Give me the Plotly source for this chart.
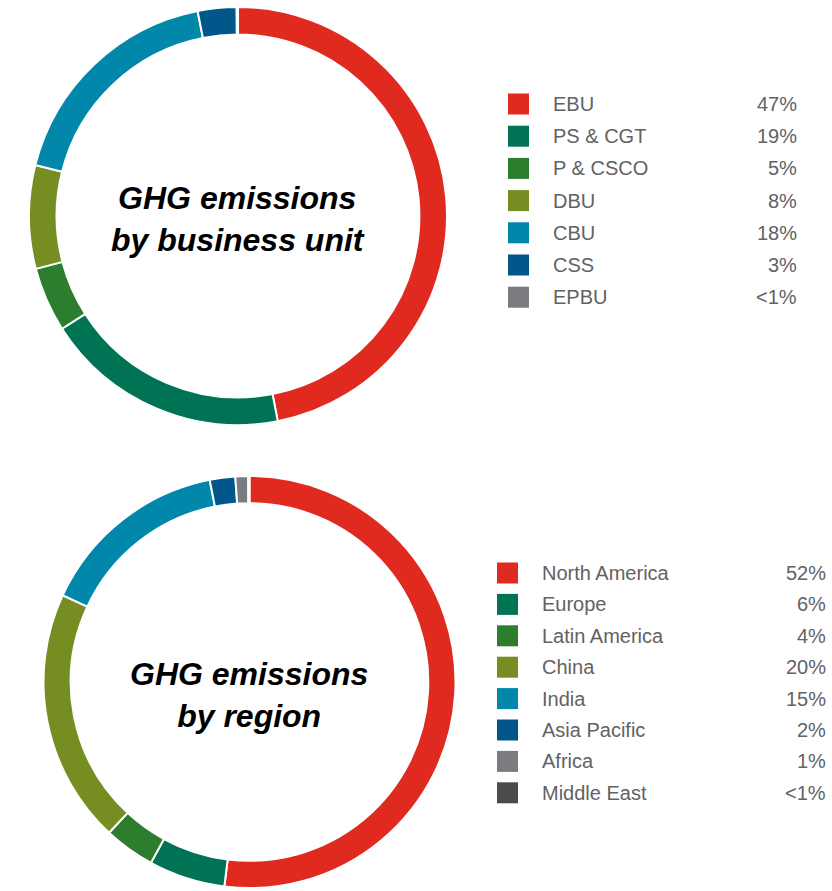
import plotly.graph_objects as go

W, H = 832, 891

# ---- data ----
bu_labels = ["EBU", "PS & CGT", "P & CSCO", "DBU", "CBU", "CSS", "EPBU"]
bu_values = [47, 19, 5, 8, 18, 3, 0.1]
bu_text = ["47%", "19%", "5%", "8%", "18%", "3%", "<1%"]
bu_colors = ["#E02A1F", "#007354", "#2D7D2E", "#758D21", "#0087AA", "#01578A", "#7B7C80"]

reg_labels = ["North America", "Europe", "Latin America", "China", "India",
              "Asia Pacific", "Africa", "Middle East"]
reg_values = [52, 6, 4, 20, 15, 2, 1, 0.1]
reg_text = ["52%", "6%", "4%", "20%", "15%", "2%", "1%", "<1%"]
reg_colors = ["#E02A1F", "#007354", "#2D7D2E", "#758D21", "#0087AA", "#01578A",
              "#7B7C80", "#4B4B4E"]


def px_x(x):
    return x / W


def px_y(y):
    return 1 - y / H


fig = go.Figure()

# top donut: center (238,216), r 209
fig.add_trace(go.Pie(
    labels=bu_labels, values=bu_values, sort=False, direction="clockwise",
    rotation=0, hole=0.868, textinfo="none", hoverinfo="label+percent",
    marker=dict(colors=bu_colors, line=dict(color="white", width=2)),
    domain=dict(x=[px_x(238 - 209), px_x(238 + 209)], y=[px_y(216 + 209), px_y(216 - 209)]),
    showlegend=False,
))
# bottom donut: center (249.5,682), r 206
fig.add_trace(go.Pie(
    labels=reg_labels, values=reg_values, sort=False, direction="clockwise",
    rotation=0, hole=0.868, textinfo="none", hoverinfo="label+percent",
    marker=dict(colors=reg_colors, line=dict(color="white", width=2)),
    domain=dict(x=[px_x(249.5 - 206), px_x(249.5 + 206)], y=[px_y(682 + 206), px_y(682 - 206)]),
    showlegend=False,
))

annotations = []
shapes = []

title_font = dict(family="Liberation Sans, Arial, sans-serif", size=32, color="#000000")
annotations.append(dict(
    text="<b><i>GHG emissions<br>by business unit</i></b>", x=px_x(238), y=px_y(219),
    xref="paper", yref="paper", xanchor="center", yanchor="middle",
    showarrow=False, font=title_font, align="center"))
annotations.append(dict(
    text="<b><i>GHG emissions<br>by region</i></b>", x=px_x(249), y=px_y(695),
    xref="paper", yref="paper", xanchor="center", yanchor="middle",
    showarrow=False, font=title_font, align="center"))

leg_font = dict(family="Liberation Sans, Arial, sans-serif", size=20, color="#626264")


def add_legend(labels, texts, colors, sw_x, y0, dy, lab_x, pct_right):
    for i, (lab, t, c) in enumerate(zip(labels, texts, colors)):
        yc = y0 + i * dy
        shapes.append(dict(type="rect", xref="paper", yref="paper",
                           x0=px_x(sw_x), x1=px_x(sw_x + 21),
                           y0=px_y(yc + 10.5), y1=px_y(yc - 10.5),
                           fillcolor=c, line=dict(width=0)))
        annotations.append(dict(text=lab, x=px_x(lab_x), y=px_y(yc), xref="paper", yref="paper",
                                xanchor="left", yanchor="middle", showarrow=False, font=leg_font))
        annotations.append(dict(text=t, x=px_x(pct_right), y=px_y(yc), xref="paper", yref="paper",
                                xanchor="right", yanchor="middle", showarrow=False, font=leg_font))


add_legend(bu_labels, bu_text, bu_colors, 508, 104, 32.2, 551, 799)
add_legend(reg_labels, reg_text, reg_colors, 497, 573, 31.4, 540, 828)

fig.update_layout(
    width=W, height=H, margin=dict(l=0, r=0, t=0, b=0),
    paper_bgcolor="white", plot_bgcolor="white",
    annotations=annotations, shapes=shapes,
)

fig.write_html("out.html", config={"displayModeBar": False},
               post_script="document.body.style.margin='0';document.body.style.overflow='hidden';")
